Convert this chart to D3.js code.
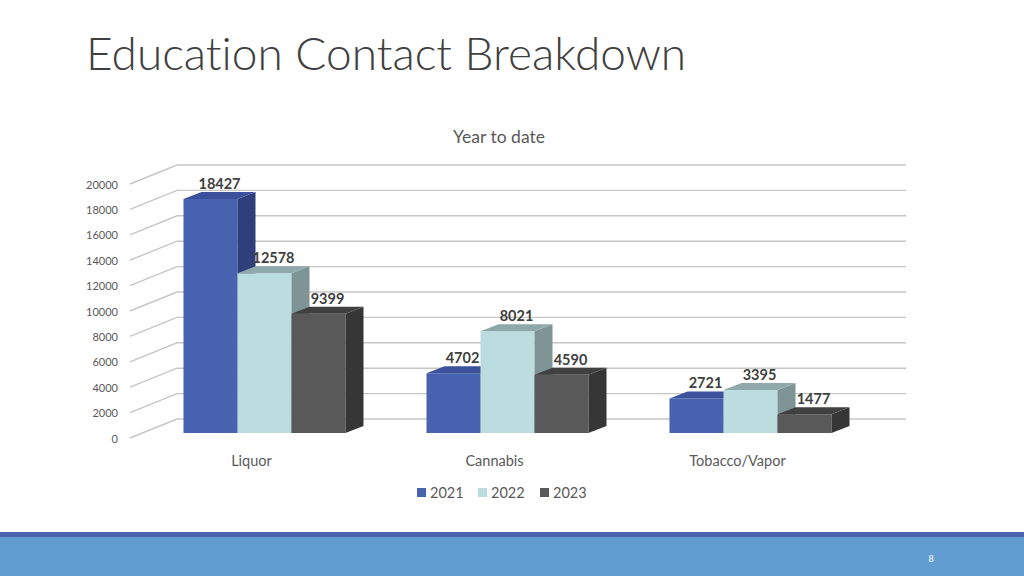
<!DOCTYPE html>
<html><head><meta charset="utf-8">
<script src="https://cdn.jsdelivr.net/npm/d3@7"></script>
<style>html,body{margin:0;padding:0;background:#fff;}svg{display:block;}text{font-variant-ligatures:none;font-feature-settings:"liga" 0;}</style>
</head><body>
<svg id="chart" width="1024" height="576"></svg>
<script>
const categories = ["Liquor", "Cannabis", "Tobacco/Vapor"];
const seriesNames = ["2021", "2022", "2023"];
const values2021 = [18427, 4702, 2721];
const values2022 = [12578, 8021, 3395];
const values2023 = [9399, 4590, 1477];
const yTicks = [0, 2000, 4000, 6000, 8000, 10000, 12000, 14000, 16000, 18000, 20000];

const seriesValues = [values2021, values2022, values2023];
const faceColors = {
  "2021": {front: "#4762ae", side: "#2e3f7c", top: "#3b519c"},
  "2022": {front: "#bcdde0", side: "#7e9495", top: "#8fa8aa"},
  "2023": {front: "#595959", side: "#363636", top: "#404040"}
};

const svg = d3.select("#chart");
const font = "Lato, 'Noto Sans', sans-serif";

// slide title
svg.append("text").attr("x", 86).attr("y", 70)
  .attr("font-family", font).attr("font-weight", 300).attr("font-size", 46)
  .attr("fill", "#404040").text("Education Contact Breakdown");

// chart title
svg.append("text").attr("x", 499).attr("y", 143).attr("text-anchor", "middle")
  .attr("font-family", font).attr("font-size", 17.5).attr("fill", "#595959").text("Year to date");

// 3D geometry
const frontLeft = 130, frontRight = 859;
const wallDX = 47, wallDY = -19;
const barDX0 = 13, barDY0 = -5;   // bar front offset from front plane
const barDX = 18, barDY = -7;     // bar depth

const y = d3.scaleLinear().domain([0, 20000]).range([438, 184]);
const x0 = d3.scaleBand().domain(categories).range([frontLeft, frontRight]);
const x1 = d3.scaleBand().domain(seriesNames).range([0, 162]);
const groupOffset = (x0.bandwidth() - 162) / 2;

// gridlines: left wall diagonal + back wall line
const grid = svg.append("g");
yTicks.forEach(t => {
  const yf = y(t);
  grid.append("polyline")
    .attr("points", `${frontLeft},${yf} ${frontLeft + wallDX},${yf + wallDY} ${frontRight + wallDX},${yf + wallDY}`)
    .attr("fill", "none").attr("stroke", "#c6c6c6").attr("stroke-width", 1.4);
  grid.append("text").attr("x", 118).attr("y", yf + 4.5).attr("text-anchor", "end")
    .attr("font-family", font).attr("font-size", 11).attr("fill", "#595959").text(t);
});

// bars
const bars = svg.append("g");
categories.forEach((cat, ci) => {
  seriesNames.forEach((s, si) => {
    const v = seriesValues[si][ci];
    const w = x1.bandwidth();
    const xl = x0(cat) + groupOffset + x1(s) + barDX0;
    const xr = xl + w;
    const yb = y(0) + barDY0;
    const yt = y(v) + barDY0;
    const c = faceColors[s];
    bars.append("polygon")
      .attr("points", `${xl},${yb} ${xr},${yb} ${xr},${yt} ${xl},${yt}`)
      .attr("fill", c.front);
    bars.append("polygon")
      .attr("points", `${xr},${yb} ${xr + barDX},${yb + barDY} ${xr + barDX},${yt + barDY} ${xr},${yt}`)
      .attr("fill", c.side);
    bars.append("polygon")
      .attr("points", `${xl},${yt} ${xr},${yt} ${xr + barDX},${yt + barDY} ${xl + barDX},${yt + barDY}`)
      .attr("fill", c.top);
  });
});

// data labels
categories.forEach((cat, ci) => {
  seriesNames.forEach((s, si) => {
    const v = seriesValues[si][ci];
    const cx = x0(cat) + groupOffset + x1(s) + barDX0 + x1.bandwidth() / 2 + barDX / 2;
    const yt = y(v) + barDY0 + barDY;
    svg.append("text").attr("x", cx).attr("y", yt - 3).attr("text-anchor", "middle")
      .attr("font-family", font).attr("font-weight", 700).attr("font-size", 14.5)
      .attr("fill", "#404040").text(v);
  });
});

// category labels
categories.forEach(cat => {
  svg.append("text").attr("x", x0(cat) + x0.bandwidth() / 2).attr("y", 466).attr("text-anchor", "middle")
    .attr("font-family", font).attr("font-size", 14.5).attr("fill", "#595959").text(cat);
});

// legend
const legendX = [417, 478, 540];
seriesNames.forEach((s, i) => {
  svg.append("rect").attr("x", legendX[i]).attr("y", 488).attr("width", 9).attr("height", 9)
    .attr("fill", faceColors[s].front);
  svg.append("text").attr("x", legendX[i] + 13).attr("y", 497.5)
    .attr("font-family", font).attr("font-size", 14.5).attr("fill", "#595959").text(s);
});

// footer
svg.append("rect").attr("x", 0).attr("y", 532).attr("width", 1024).attr("height", 6).attr("fill", "#4a64ae");
svg.append("rect").attr("x", 0).attr("y", 537).attr("width", 1024).attr("height", 39).attr("fill", "#619dd1");
svg.append("text").attr("x", 931).attr("y", 562).attr("text-anchor", "middle")
  .attr("font-family", font).attr("font-size", 9).attr("fill", "#ffffff").text("8");
</script>
</body></html>
